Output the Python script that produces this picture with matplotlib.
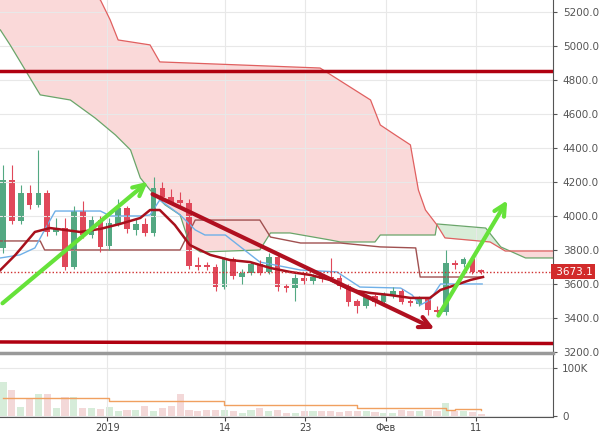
import numpy as np
import matplotlib
matplotlib.use("Agg")
import matplotlib.pyplot as plt

opens  = [3812,4212,3970,4135,4065,4135,3906,3930,3700,4030,3888,3976,3824,3953,4047,3918,3953,3900,4165,4112,4094,4076,3710,3712,3700,3582,3747,3641,3665,3718,3671,3759,3588,3576,3635,3618,3653,3641,3635,3588,3500,3470,3530,3494,3530,3559,3500,3482,3512,3447,3435,3724,3718,3747,3682]
closes = [4212,3970,4135,4065,4135,3906,3930,3700,4030,3888,3976,3818,3960,4047,3923,3953,3900,4165,4112,4082,4076,3706,3700,3700,3582,3747,3647,3665,3718,3665,3759,3582,3576,3635,3618,3641,3630,3635,3588,3494,3470,3530,3494,3535,3559,3494,3488,3512,3447,3435,3724,3712,3747,3671,3673]
highs  = [4300,4300,4180,4180,4388,4150,3990,3990,4060,4090,4000,4000,3990,4100,4060,3980,3990,4230,4200,4160,4140,4100,3760,3730,3720,3760,3760,3690,3730,3740,3780,3780,3600,3660,3660,3660,3660,3753,3650,3600,3510,3540,3540,3550,3580,3570,3510,3530,3520,3470,3800,3740,3760,3760,3690]
lows   = [3780,3950,3950,4040,4050,3880,3890,3680,3690,3870,3870,3790,3800,3940,3900,3890,3880,3880,4090,4070,4060,3690,3680,3680,3560,3570,3630,3600,3650,3650,3660,3560,3550,3500,3600,3600,3610,3620,3570,3470,3430,3460,3470,3480,3520,3480,3470,3470,3420,3420,3420,3690,3700,3660,3660]
volumes = [71,54,18,37,45,45,16,39,39,16,15,14,18,9,12,12,21,10,16,20,46,12,9,12,12,12,9,6,12,16,9,12,6,6,10,10,10,9,8,9,9,9,8,6,6,12,9,10,12,10,27,10,9,8,4]
vol_ma_x = [0,12,25,40,50,51,54]
vol_ma = [37,30,22,17,12,14,11]

spanA_x = [-0.3,0.8,4.2,7.6,10.4,12.7,14.4,15.5,16.6,18.3,20,21.1,22.3,29,30.2,32.4,36.9,38.1,42,42.6,48.8,49,54.5,56.2,59,62.1]
spanA   = [5094,5006,4712,4682,4576,4476,4388,4224,4153,4065,4006,3829,3788,3800,3900,3900,3859,3847,3847,3888,3888,3953,3929,3818,3753,3753]
spanB_x = [-0.3,11,12.1,13,16.6,17.7,35.8,41.5,42.6,44.3,46,46.9,47.7,49,49.9,55,56.7,62.1]
spanB   = [5600,5270,5153,5035,5006,4906,4870,4682,4535,4476,4418,4153,4035,3947,3871,3847,3794,3794]
ma_x = [-0.3,1.4,3.6,5.3,8.7,11,13.2,15.5,16.6,17.7,19.4,21.1,23.4,25.6,27.9,30.2,32.4,34.7,36.9,39.2,41.5,43.7,46,48.2,49.4,51.1,52.8,54.2]
ma   = [3682,3771,3906,3929,3906,3924,3953,3988,4035,4035,3947,3829,3771,3741,3729,3694,3671,3653,3624,3565,3547,3535,3518,3518,3565,3594,3624,3641]
tk_x = [-0.3,1.9,3.6,4.7,5.9,11,12.1,15.5,16.6,17.7,20,21.7,22.8,25.1,29,33.6,37.7,40.3,44.9,46.2,47.1,48.2,49.4,54.1]
tk   = [3753,3771,3812,3918,4029,4029,4000,4000,4006,4094,4006,3918,3888,3888,3729,3682,3671,3582,3576,3535,3476,3506,3600,3600]
kj_x = [-0.3,4.2,4.7,20,21.7,29,30.2,33.6,38.1,42.6,46.6,47.1,54.1]
kj   = [3853,3853,3800,3800,3976,3976,3876,3841,3841,3818,3812,3641,3641]
last_price = 3673.1
xtick_pos = [11.75,25.1,34.1,43.2,53.4]
xtick_lbl = ["2019","14","23","Фев","11"]

GREEN, RED = "#53a882", "#e0485a"
fig = plt.figure(figsize=(6,4.37), dpi=100)
ax = fig.add_axes([0, 85/437, 553/600, 352/437])
av = fig.add_axes([0, 20/437, 553/600, 63/437], sharex=ax)
xl = (-0.34, 62.1)
ax.set_xlim(*xl); ax.set_ylim(3205, 5270)

grid = np.linspace(xl[0], xl[1], 600)
A = np.interp(grid, spanA_x, spanA); B = np.interp(grid, spanB_x, spanB)
ax.fill_between(grid, A, B, where=B>=A, color="#f9d0d0", alpha=0.8, lw=0, interpolate=True)
ax.fill_between(grid, A, B, where=A>B, color="#cfe9cf", alpha=0.8, lw=0, interpolate=True)
ax.plot(spanA_x, spanA, color="#6aa56a", lw=0.9)
ax.plot(spanB_x, spanB, color="#e06060", lw=0.9)
ax.plot(kj_x, kj, color="#a05050", lw=1.0)
ax.plot(tk_x, tk, color="#6fb0e8", lw=1.0)

for i,(o,c,h,l) in enumerate(zip(opens,closes,highs,lows)):
    col = GREEN if c>=o else RED
    ax.vlines(i, l, h, color=col, lw=0.8)
    ax.bar(i, max(abs(c-o),6), bottom=min(o,c), width=0.65, color=col)
ax.plot(ma_x, ma, color="#a8101c", lw=1.8)

ax.axhline(4850, color="#b00010", lw=2.5)
ax.plot([xl[0], xl[1]], [3259, 3250], color="#b00010", lw=2.5)
ax.axhline(last_price, color="#d03030", lw=1, ls=(0,(1,1.5)))

def arrow(x0,y0,x1,y1,col):
    ax.annotate("", xy=(x1,y1), xytext=(x0,y0),
                arrowprops=dict(arrowstyle="->,head_length=0.8,head_width=0.4", color=col, lw=3))
arrow(-0.3,3476,16.6,4212,"#66e23a")
arrow(16.6,4135,49,3329,"#b01020")
arrow(49,3400,57.1,4106,"#66e23a")

yt = list(range(3200,5201,200))
ax.set_yticks(yt); ax.set_yticklabels([f"{v:.1f}" for v in yt])
ax.yaxis.tick_right()
ax.tick_params(axis="y", labelsize=7.5, colors="#555555", length=3, pad=4)
ax.tick_params(axis="x", bottom=False, labelbottom=False)
ax.grid(True, color="#e8e8e8", lw=0.8)
ax.set_xticks(xtick_pos)
for s in ["top","left","bottom"]:
    ax.spines[s].set_visible(False)
ax.spines["right"].set_color("#555555")
ax.text(1.0, last_price, f" {last_price}", transform=ax.get_yaxis_transform(), va="center", ha="left",
        fontsize=7.5, color="white", bbox=dict(boxstyle="square,pad=0.2", fc="#d22b2b", ec="none"), clip_on=False)

vcol = ["#d6ecd9" if c>=o else "#f3d8d8" for o,c in zip(opens,closes)]
av.bar(range(len(volumes)), volumes, width=0.8, color=vcol)
av.plot(vol_ma_x, vol_ma, color="#f0a060", lw=1, drawstyle="steps-post")
av.set_ylim(-3, 130)
av.set_yticks([0,100]); av.set_yticklabels(["0","100K"])
av.yaxis.tick_right()
av.tick_params(axis="y", labelsize=7.5, colors="#555555", length=3)
av.set_xticks(xtick_pos); av.set_xticklabels(xtick_lbl)
av.tick_params(axis="x", labelsize=7, colors="#444444", length=3, pad=1)
av.grid(True, color="#e8e8e8", lw=0.8)
for s in ["top","left"]:
    av.spines[s].set_visible(False)
av.spines["right"].set_color("#555555"); av.spines["bottom"].set_color("#555555")
fig.add_artist(plt.Line2D([0,553/600],[84/437,84/437], color="#999999", lw=2.5))
fig.savefig("out.png", dpi=100)
